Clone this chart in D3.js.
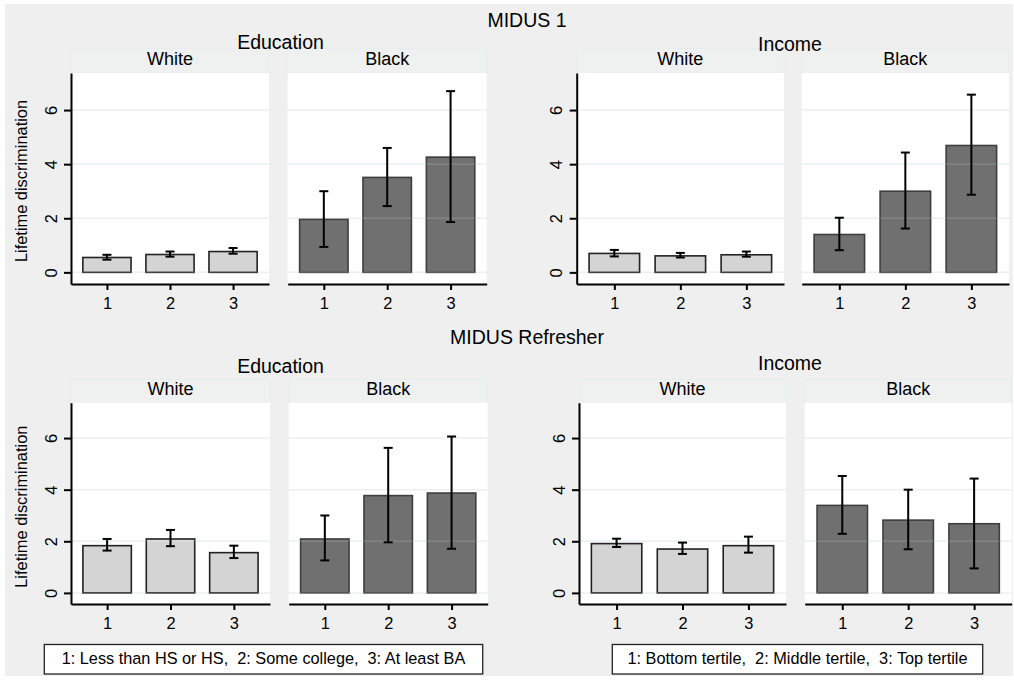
<!DOCTYPE html>
<html>
<head>
<meta charset="utf-8">
<script src="https://cdn.jsdelivr.net/npm/d3@7"></script>
<style>
  html, body { margin: 0; padding: 0; background: #ffffff; }
  svg { display: block; }
  text { font-family: "Liberation Sans", Arial, Helvetica, sans-serif; fill: #000; }
</style>
</head>
<body>
<svg id="chart" width="1014" height="681"></svg>
<script>
// ---------- data ----------
const waves = ["MIDUS 1", "MIDUS Refresher"];
const measures = ["Education", "Income"];
const races = ["White", "Black"];
const categories = [1, 2, 3];
const yTicks = [0, 2, 4, 6];
const yTitle = "Lifetime discrimination";
const legendEducation = "1: Less than HS or HS,  2: Some college,  3: At least BA";
const legendIncome = "1: Bottom tertile,  2: Middle tertile,  3: Top tertile";

// MIDUS 1
const m1EduWhiteMean = [0.55, 0.66, 0.77];
const m1EduWhiteLo   = [0.47, 0.58, 0.69];
const m1EduWhiteHi   = [0.65, 0.77, 0.90];
const m1EduBlackMean = [1.96, 3.51, 4.26];
const m1EduBlackLo   = [0.94, 2.45, 1.86];
const m1EduBlackHi   = [3.00, 4.60, 6.70];
const m1IncWhiteMean = [0.70, 0.61, 0.65];
const m1IncWhiteLo   = [0.59, 0.55, 0.58];
const m1IncWhiteHi   = [0.83, 0.72, 0.77];
const m1IncBlackMean = [1.40, 3.00, 4.69];
const m1IncBlackLo   = [0.82, 1.62, 2.87];
const m1IncBlackHi   = [2.02, 4.43, 6.57];
// MIDUS Refresher
const mrEduWhiteMean = [1.83, 2.09, 1.56];
const mrEduWhiteLo   = [1.64, 1.81, 1.35];
const mrEduWhiteHi   = [2.09, 2.44, 1.83];
const mrEduBlackMean = [2.09, 3.77, 3.87];
const mrEduBlackLo   = [1.26, 1.96, 1.71];
const mrEduBlackHi   = [3.00, 5.62, 6.06];
const mrIncWhiteMean = [1.91, 1.70, 1.83];
const mrIncWhiteLo   = [1.78, 1.51, 1.56];
const mrIncWhiteHi   = [2.10, 1.95, 2.18];
const mrIncBlackMean = [3.39, 2.82, 2.68];
const mrIncBlackLo   = [2.29, 1.69, 0.95];
const mrIncBlackHi   = [4.53, 4.00, 4.43];

const panelData = [
  [ // wave 0
    [ {mean: m1EduWhiteMean, lo: m1EduWhiteLo, hi: m1EduWhiteHi},
      {mean: m1EduBlackMean, lo: m1EduBlackLo, hi: m1EduBlackHi} ],
    [ {mean: m1IncWhiteMean, lo: m1IncWhiteLo, hi: m1IncWhiteHi},
      {mean: m1IncBlackMean, lo: m1IncBlackLo, hi: m1IncBlackHi} ]
  ],
  [ // wave 1
    [ {mean: mrEduWhiteMean, lo: mrEduWhiteLo, hi: mrEduWhiteHi},
      {mean: mrEduBlackMean, lo: mrEduBlackLo, hi: mrEduBlackHi} ],
    [ {mean: mrIncWhiteMean, lo: mrIncWhiteLo, hi: mrIncWhiteHi},
      {mean: mrIncBlackMean, lo: mrIncBlackLo, hi: mrIncBlackHi} ]
  ]
];

// ---------- layout ----------
const rows = [
  { top: 73, bottom: 284, stripTop: 48.5, waveY: 27, measureY: [49, 50.5], stripTextY: 65, yTitleY: 181,
    cols: [ [[71, 269], [287.7, 486.7]], [[576.7, 784], [801.7, 1009]] ] },
  { top: 402.7, bottom: 604, stripTop: 379.5, waveY: 343.5, measureY: [373.3, 370], stripTextY: 395, yTitleY: 506.7,
    cols: [ [[71, 270], [288.7, 487.7]], [[579, 786], [804.7, 1011.7]] ] }
];
const yDomain = [-0.43, 7.37];
const xDomain = [0.43, 3.57];
const barWidthUnits = 0.78;
const fills = ["#d4d4d4", "#707070"];
const strokes = ["#222222", "#3e3e3e"];

const svg = d3.select("#chart");
svg.append("rect").attr("x", 5).attr("y", 4).attr("width", 1008).attr("height", 672).attr("fill", "#efefef");
const panelLayer = svg.append("g");
const titleLayer = svg.append("g");

rows.forEach((row, wi) => {
  // wave title
  titleLayer.append("text").attr("x", 527).attr("y", row.waveY).attr("text-anchor", "middle")
    .style("font-size", "19.5px").text(waves[wi]);

  row.cols.forEach((pair, mi) => {
    titleLayer.append("text").attr("x", mi === 0 ? 280.5 : 790).attr("y", row.measureY[mi]).attr("text-anchor", "middle")
      .style("font-size", "19.5px").text(measures[mi]);

    pair.forEach((xr, ri) => {
      const d = panelData[wi][mi][ri];
      const x = d3.scaleLinear().domain(xDomain).range(xr);
      const y = d3.scaleLinear().domain(yDomain).range([row.bottom, row.top]);
      const g = panelLayer.append("g");

      // strip
      g.append("rect").attr("x", xr[0]).attr("y", row.stripTop).attr("width", xr[1] - xr[0])
        .attr("height", row.top - row.stripTop).attr("fill", "#eff1f1").attr("stroke", "#e6eded").attr("stroke-width", 1);
      titleLayer.append("text").attr("x", (xr[0] + xr[1]) / 2).attr("y", row.stripTextY).attr("text-anchor", "middle")
        .style("font-size", "18px").text(races[ri]);

      // plot region
      g.append("rect").attr("x", xr[0]).attr("y", row.top).attr("width", xr[1] - xr[0])
        .attr("height", row.bottom - row.top).attr("fill", "#ffffff");

      // grid (under)
      g.selectAll("line.grid").data(yTicks).enter().append("line").attr("class", "grid")
        .attr("x1", xr[0]).attr("x2", xr[1]).attr("y1", v => y(v)).attr("y2", v => y(v))
        .attr("stroke", "#e8eff0").attr("stroke-width", 1.5);

      // bars
      const bw = x(1 + barWidthUnits) - x(1);
      g.selectAll("rect.bar").data(categories).enter().append("rect").attr("class", "bar")
        .attr("x", (c) => x(c) - bw / 2 + 0.5)
        .attr("width", bw - 1)
        .attr("y", (c, i) => y(d.mean[i]))
        .attr("height", (c, i) => y(0) - y(d.mean[i]))
        .attr("fill", fills[ri]).attr("stroke", strokes[ri]).attr("stroke-width", 1.6);

      // grid overlay (faint over bars)
      g.selectAll("line.grido").data(yTicks).enter().append("line").attr("class", "grido")
        .attr("x1", xr[0]).attr("x2", xr[1]).attr("y1", v => y(v)).attr("y2", v => y(v))
        .attr("stroke", "#ffffff").attr("stroke-opacity", 0.14).attr("stroke-width", 1.5);

      // error bars
      const cap = 4.5;
      const eg = g.selectAll("g.err").data(categories).enter().append("g").attr("class", "err");
      eg.append("line").attr("x1", c => x(c)).attr("x2", c => x(c))
        .attr("y1", (c, i) => y(d.lo[i])).attr("y2", (c, i) => y(d.hi[i]))
        .attr("stroke", "#000").attr("stroke-width", 2);
      eg.append("line").attr("x1", c => x(c) - cap).attr("x2", c => x(c) + cap)
        .attr("y1", (c, i) => y(d.lo[i])).attr("y2", (c, i) => y(d.lo[i]))
        .attr("stroke", "#000").attr("stroke-width", 2);
      eg.append("line").attr("x1", c => x(c) - cap).attr("x2", c => x(c) + cap)
        .attr("y1", (c, i) => y(d.hi[i])).attr("y2", (c, i) => y(d.hi[i]))
        .attr("stroke", "#000").attr("stroke-width", 2);

      // x axis
      const xa = g.append("g").attr("transform", `translate(0,${row.bottom})`)
        .call(d3.axisBottom(x).tickValues(categories).tickSize(6).tickSizeOuter(0).tickFormat(d3.format("d")));
      xa.select(".domain").attr("stroke", "#000").attr("stroke-width", 2);
      xa.selectAll(".tick line").attr("stroke", "#000").attr("stroke-width", 2);
      xa.selectAll(".tick text").attr("y", 25).attr("dy", null)
        .style("font-size", "16.4px").style("font-family", '"Liberation Sans", Arial, sans-serif').attr("fill", "#000");

      // y axis only on White panels
      if (ri === 0) {
        const ya = g.append("g").attr("transform", `translate(${xr[0]},0)`)
          .call(d3.axisLeft(y).tickValues(yTicks).tickSize(7).tickSizeOuter(0).tickFormat(d3.format("d")));
        ya.select(".domain").attr("stroke", "#000").attr("stroke-width", 2);
        ya.selectAll(".tick line").attr("stroke", "#000").attr("stroke-width", 2);
        ya.selectAll(".tick text").attr("x", 0).attr("y", -14.5).attr("dy", null)
          .attr("text-anchor", "middle").attr("transform", "rotate(-90)")
          .style("font-size", "16.4px").style("font-family", '"Liberation Sans", Arial, sans-serif').attr("fill", "#000");
        if (mi === 0) {
          titleLayer.append("text").attr("transform", `translate(26.5,${row.yTitleY}) rotate(-90)`)
            .attr("text-anchor", "middle").style("font-size", "16.4px").text(yTitle);
        }
      }
    });
  });
});

// legends
const legends = [
  { x0: 44.3, x1: 482.7, text: legendEducation },
  { x0: 612.3, x1: 982.7, text: legendIncome }
];
legends.forEach(l => {
  svg.append("rect").attr("x", l.x0).attr("y", 644.5).attr("width", l.x1 - l.x0).attr("height", 29.5)
    .attr("fill", "#ffffff").attr("stroke", "#222").attr("stroke-width", 1.3);
  svg.append("text").attr("x", (l.x0 + l.x1) / 2).attr("y", 664.3).attr("text-anchor", "middle")
    .style("font-size", "16.3px").style("white-space", "pre").text(l.text);
});
</script>
</body>
</html>
